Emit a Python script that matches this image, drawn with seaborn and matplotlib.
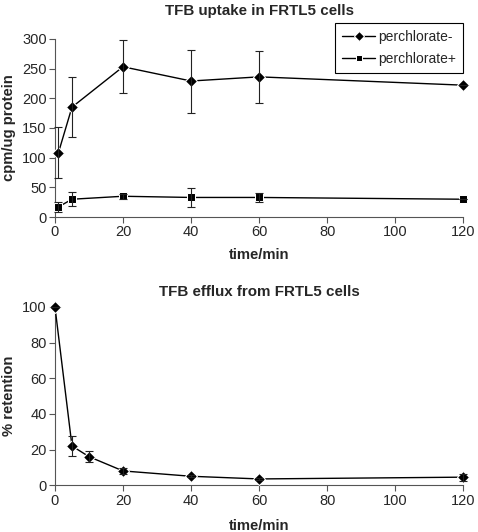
import matplotlib
matplotlib.use("Agg")
import matplotlib.pyplot as plt
import seaborn as sns
import pandas as pd

sns.set_theme(style="ticks")
plt.rcParams['font.family'] = ['Liberation Sans', 'DejaVu Sans']

# Uptake data
uptake_time = [1, 5, 20, 40, 60, 120]
minus_vals = [108, 185, 253, 229, 236, 222]
minus_err = [43, 51, 45, 53, 44, 0]
plus_vals = [17, 30, 35, 33, 33, 30]
plus_err = [9, 12, 4, 16, 8, 0]

# Efflux data
efflux_time = [0, 5, 10, 20, 40, 60, 120]
efflux_vals = [100, 22, 16, 8, 5, 3.5, 4.5]
efflux_err = [0, 5.5, 3, 1.8, 0.6, 0.6, 2.0]

fig = plt.figure(figsize=(4.78, 5.32), dpi=100)
ax1 = fig.add_axes([0.115, 0.592, 0.854, 0.335])
ax2 = fig.add_axes([0.115, 0.088, 0.854, 0.335])

df_up = pd.DataFrame({
    "time": uptake_time * 2,
    "value": minus_vals + plus_vals,
    "series": ["perchlorate-"] * len(uptake_time) + ["perchlorate+"] * len(uptake_time),
})
sns.lineplot(data=df_up, x="time", y="value", hue="series", style="series",
             markers={"perchlorate-": "D", "perchlorate+": "s"}, dashes=False,
             palette={"perchlorate-": "black", "perchlorate+": "black"},
             markersize=6, linewidth=1, ax=ax1, legend=True, clip_on=False, zorder=3)
ax1.errorbar(uptake_time, minus_vals, yerr=minus_err, fmt="none", ecolor="#222222",
             elinewidth=0.8, capsize=3, capthick=0.8, clip_on=False, zorder=4)
ax1.errorbar(uptake_time, plus_vals, yerr=plus_err, fmt="none", ecolor="#222222",
             elinewidth=0.8, capsize=3, capthick=0.8, clip_on=False, zorder=4)
ax1.set_xlim(0, 120)
ax1.set_ylim(0, 300)
ax1.set_xticks(range(0, 121, 20))
ax1.set_yticks(range(0, 301, 50))
ax1.set_title("TFB uptake in FRTL5 cells", fontsize=10.9, fontweight="bold", pad=17)
ax1.set_xlabel("time/min", fontsize=10.7, fontweight="bold", labelpad=6)
ax1.set_ylabel("cpm/ug protein", fontsize=10.7, fontweight="bold", labelpad=4)
handles, labels = ax1.get_legend_handles_labels()
for h in handles:
    h.set_markersize(5)
leg = ax1.legend(handles, labels, loc="upper right",
                 bbox_to_anchor=(463 / 478, 1 - 23 / 532),
                 bbox_transform=fig.transFigure, borderaxespad=0,
                 frameon=True, fancybox=False, edgecolor="black", fontsize=10,
                 handlelength=2.4, handletextpad=0.2, borderpad=0.5,
                 labelspacing=0.6, framealpha=1)
leg.get_frame().set_linewidth(0.8)

df_ef = pd.DataFrame({"time": efflux_time, "value": efflux_vals})
sns.lineplot(data=df_ef, x="time", y="value", marker="D", color="black",
             markersize=6, linewidth=1, ax=ax2, clip_on=False, zorder=3)
ax2.errorbar(efflux_time, efflux_vals, yerr=efflux_err, fmt="none", ecolor="#222222",
             elinewidth=0.8, capsize=3, capthick=0.8, clip_on=False, zorder=4)
ax2.set_xlim(0, 120)
ax2.set_ylim(0, 100)
ax2.set_xticks(range(0, 121, 20))
ax2.set_yticks(range(0, 101, 20))
ax2.set_title("TFB efflux from FRTL5 cells", fontsize=10.9, fontweight="bold", pad=8)
ax2.set_xlabel("time/min", fontsize=10.7, fontweight="bold", labelpad=8)
ax2.set_ylabel("% retention", fontsize=10.7, fontweight="bold", labelpad=4)

for ax in (ax1, ax2):
    sns.despine(ax=ax)
    ax.tick_params(labelsize=10.5, length=4, width=0.8, color="#555555", pad=2)
    for s in ("left", "bottom"):
        ax.spines[s].set_color("#555555")
        ax.spines[s].set_linewidth(0.8)

fig.savefig("out.png", dpi=100)
